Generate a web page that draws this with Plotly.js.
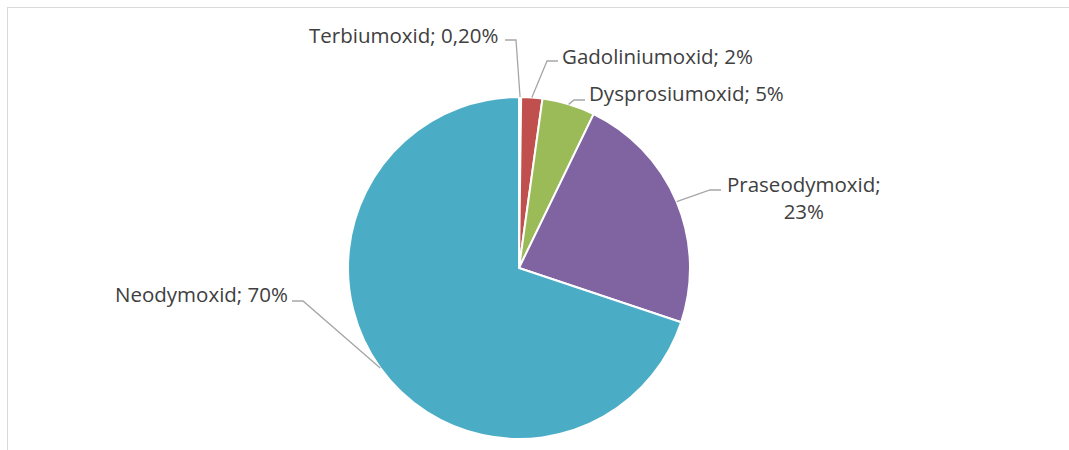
<!DOCTYPE html>
<html>
<head>
<meta charset="utf-8">
<script src="https://cdn.plot.ly/plotly-3.0.1.min.js"></script>
<style>
  html, body { margin: 0; padding: 0; background: #ffffff; overflow: hidden; }
  #frame { position: absolute; left: 7px; top: 7px; width: 1200px; height: 600px;
           border-left: 1px solid #d9d9d9; border-top: 1px solid #d9d9d9; }
  #chart { position: absolute; left: 0; top: 0; width: 1069px; height: 450px; }
</style>
</head>
<body>
<div id="frame"></div>
<div id="chart"></div>
<script>
// ---- data ----
const categories = ["Terbiumoxid", "Gadoliniumoxid", "Dysprosiumoxid", "Praseodymoxid", "Neodymoxid"];
const values = [0.2, 2, 5, 23, 70];
const valueLabels = ["0,20%", "2%", "5%", "23%", "70%"];
const colors = ["#4F81BD", "#C0504D", "#9BBB59", "#8064A2", "#4BACC6"];

// ---- layout geometry (pixels) ----
const W = 1069, H = 450;
const cx = 519, cy = 268, R = 171;
// label placement: [elbowX, elbowY, endX, textX, textY, xanchor, useBreak]
const labelPlacement = [
  [516, 40, 505, 500, 35, "right", false],
  [547, 61, 558, 560, 56, "left", false],
  [574, 100, 585, 587, 93, "left", false],
  [710, 190, 721, 804, 198, "center", true],
  [303, 301, 292, 290, 294, "right", false]
];

const px = x => x / W;
const py = y => 1 - y / H;

const total = values.reduce((a, b) => a + b, 0);
const shapes = [];
const annotations = [];
let cum = 0;
values.forEach((v, i) => {
  const mid = (cum + v / 2) / total * 2 * Math.PI;
  cum += v;
  const tipX = cx + R * Math.sin(mid);
  const tipY = cy - R * Math.cos(mid);
  const [ex, ey, endX, tx, ty, anchor, brk] = labelPlacement[i];
  shapes.push({
    type: "path", xref: "paper", yref: "paper",
    path: `M ${px(tipX)} ${py(tipY)} L ${px(ex)} ${py(ey)} L ${px(endX)} ${py(ey)}`,
    line: { color: "#a6a6a6", width: 1.3 }
  });
  annotations.push({
    xref: "paper", yref: "paper", x: px(tx), y: py(ty),
    xanchor: anchor, yanchor: "middle", showarrow: false, align: "center",
    text: categories[i] + ";" + (brk ? "<br>" : " ") + valueLabels[i],
    font: { family: "Open Sans, sans-serif", size: 20.5, color: "#404040" }
  });
});

const trace = {
  type: "pie",
  labels: categories,
  values: values,
  sort: false,
  direction: "clockwise",
  rotation: 0,
  marker: { colors: colors, line: { color: "#ffffff", width: 2 } },
  textinfo: "none",
  hoverinfo: "label+percent",
  showlegend: false,
  domain: { x: [px(cx - R), px(cx + R)], y: [py(cy + R), py(cy - R)] }
};

const layout = {
  width: W, height: H,
  margin: { l: 0, r: 0, t: 0, b: 0 },
  paper_bgcolor: "rgba(0,0,0,0)",
  plot_bgcolor: "rgba(0,0,0,0)",
  showlegend: false,
  shapes: shapes,
  annotations: annotations
};

Plotly.newPlot("chart", [trace], layout, { displayModeBar: false, staticPlot: true });
</script>
</body>
</html>
